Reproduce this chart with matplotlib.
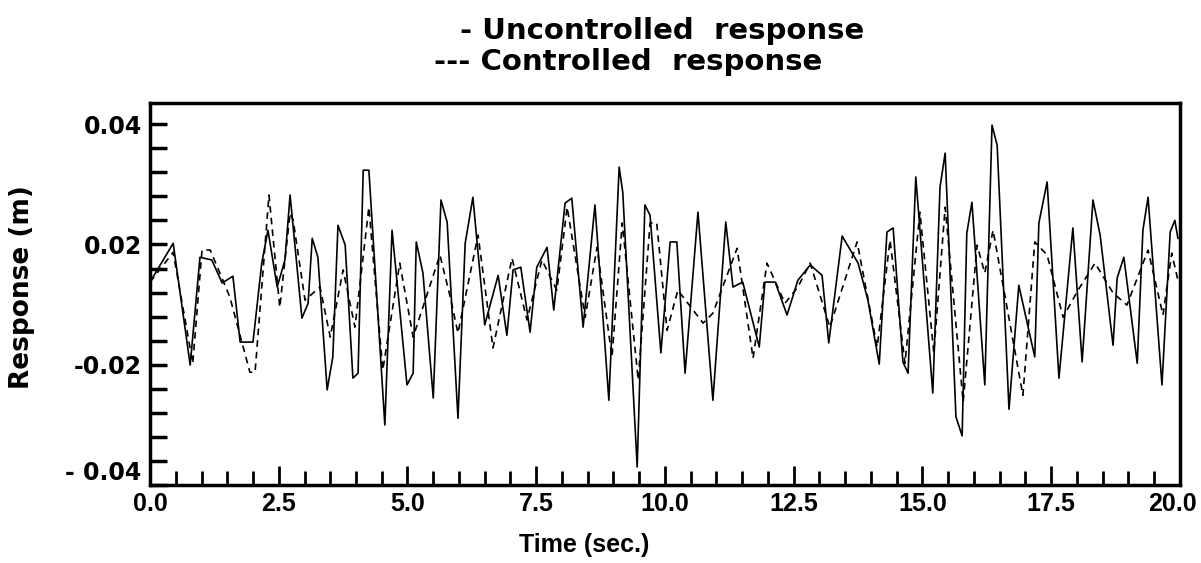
import numpy as np
import matplotlib
matplotlib.use("Agg")
from matplotlib import pyplot as plt
from matplotlib.transforms import ScaledTranslation

# ---- data ----
t_unc = [0.00, 0.45, 0.78, 0.97, 1.20, 1.40, 1.61, 1.75, 2.00, 2.17, 2.29, 2.47, 2.62, 2.72,
         2.95, 3.07, 3.15, 3.26, 3.44, 3.55, 3.65, 3.79, 3.94, 4.04, 4.14, 4.25, 4.56, 4.70,
         4.99, 5.11, 5.17, 5.30, 5.50, 5.65, 5.77, 5.98, 6.12, 6.27, 6.50, 6.76, 6.93, 7.05,
         7.20, 7.38, 7.51, 7.71, 7.84, 8.06, 8.19, 8.41, 8.64, 8.91, 9.11, 9.18, 9.46, 9.61,
         9.71, 9.92, 10.10, 10.23, 10.39, 10.64, 10.93, 11.18, 11.32, 11.51, 11.83, 11.94,
         12.14, 12.37, 12.58, 12.82, 13.05, 13.18, 13.44, 13.75, 13.94, 14.16, 14.31, 14.43,
         14.62, 14.72, 14.87, 15.20, 15.34, 15.44, 15.65, 15.77, 15.86, 15.96, 16.21, 16.35,
         16.45, 16.68, 16.87, 17.18, 17.26, 17.42, 17.65, 17.92, 18.10, 18.31, 18.45, 18.70,
         18.78, 18.91, 19.17, 19.28, 19.38, 19.65, 19.81, 19.90, 19.96]
y_unc = [0.0050, 0.0136, -0.0134, 0.0105, 0.0099, 0.0048, 0.0063, -0.0083, -0.0083, 0.0092,
         0.0165, 0.0039, 0.0099, 0.0243, -0.0030, 0.0003, 0.0147, 0.0105, -0.0189, -0.0116,
         0.0176, 0.0132, -0.0163, -0.0152, 0.0298, 0.0298, -0.0267, 0.0165, -0.0178, -0.0152,
         0.0139, 0.0070, -0.0207, 0.0232, 0.0183, -0.0252, 0.0136, 0.0238, -0.0045, 0.0065,
         -0.0068, 0.0077, 0.0083, -0.0061, 0.0083, 0.0127, -0.0012, 0.0225, 0.0236, -0.0050,
         0.0221, -0.0212, 0.0305, 0.0249, -0.0360, 0.0221, 0.0198, -0.0107, 0.0139, 0.0139,
         -0.0152, 0.0205, -0.0212, 0.0183, 0.0039, 0.0050, -0.0094, 0.0050, 0.0050, -0.0023,
         0.0054, 0.0088, 0.0065, -0.0085, 0.0152, 0.0092, 0.0010, -0.0132, 0.0161, 0.0170,
         -0.0127, -0.0152, 0.0283, -0.0196, 0.0260, 0.0336, -0.0249, -0.0291, 0.0158, 0.0227,
         -0.0178, 0.0398, 0.0353, -0.0232, 0.0043, -0.0116, 0.0181, 0.0272, -0.0163, 0.0170,
         -0.0127, 0.0232, 0.0154, -0.0090, 0.0059, 0.0105, -0.0130, 0.0165, 0.0238, -0.0178,
         0.0161, 0.0187, 0.0147]

t_ctl = [0.00, 0.45, 0.83, 1.01, 1.17, 1.55, 1.94, 2.04, 2.31, 2.52, 2.72, 2.78, 3.01, 3.30,
         3.50, 3.75, 3.98, 4.25, 4.52, 4.85, 5.11, 5.63, 5.83, 5.98, 6.37, 6.66, 7.03, 7.32,
         7.61, 7.90, 8.10, 8.45, 8.68, 8.97, 9.17, 9.48, 9.71, 9.84, 10.04, 10.25, 10.74,
         10.93, 11.40, 11.71, 11.98, 12.33, 12.58, 12.82, 13.20, 13.73, 14.12, 14.37, 14.66,
         14.95, 15.22, 15.44, 15.79, 16.06, 16.21, 16.37, 16.95, 17.18, 17.42, 17.73, 18.02,
         18.35, 18.70, 18.97, 19.38, 19.67, 19.84, 19.96]
y_ctl = [0.0050, 0.0116, -0.0130, 0.0121, 0.0121, 0.0017, -0.0150, -0.0150, 0.0243, -0.0006,
         0.0203, 0.0187, 0.0010, 0.0039, -0.0072, 0.0077, -0.0050, 0.0216, -0.0145, 0.0092,
         -0.0072, 0.0110, 0.0017, -0.0063, 0.0154, -0.0096, 0.0103, -0.0034, 0.0099, 0.0032,
         0.0216, -0.0028, 0.0127, -0.0116, 0.0181, -0.0167, 0.0181, 0.0181, -0.0057, 0.0032,
         -0.0041, -0.0019, 0.0125, -0.0119, 0.0092, 0.0003, 0.0039, 0.0092, -0.0050, 0.0139,
         -0.0094, 0.0143, -0.0130, 0.0205, -0.0107, 0.0216, -0.0216, 0.0132, 0.0070, 0.0165,
         -0.0201, 0.0139, 0.0110, -0.0028, 0.0032, 0.0092, 0.0026, -0.0001, 0.0121, -0.0023,
         0.0114, 0.0054]

x_ticks = [0.0, 2.5, 5.0, 7.5, 10.0, 12.5, 15.0, 17.5, 20.0]
x_labels = ["0.0", "2.5", "5.0", "7.5", "10.0", "12.5", "15.0", "17.5", "20.0"]
y_labels = ["0.04", "0.02", "-0.02", "- 0.04"]

plt.rcParams['font.family'] = ['DejaVu Sans']
plt.rcParams['font.weight'] = 'bold'

fig = plt.figure(figsize=(12.01, 5.63), dpi=100)
ax = fig.add_axes([0.1249, 0.1385, 0.8576, 0.6785])

ax.plot(t_unc, y_unc, color='black', lw=1.2, ls='-')
ax.plot(t_ctl, y_ctl, color='black', lw=1.2, ls=(0, (4, 3)))

ax.set_xlim(0, 20)
ax.set_ylim(-0.04, 0.0447)

ax.set_xticks(x_ticks)
ax.set_xticklabels(x_labels, fontsize=18, family='Liberation Sans', fontweight='bold')
ax.set_xticks(np.arange(0, 20.01, 0.5), minor=True)

yt = np.linspace(0.04, -0.04, 16)
ax.set_yticks(yt[[0, 5, 10, 15]])
ax.set_yticklabels(y_labels, fontsize=17)
ax.set_yticks(yt, minor=True)

ax.tick_params(axis='x', which='major', direction='in', length=14, width=2, pad=5)
ax.tick_params(axis='x', which='minor', direction='in', length=10, width=2)
ax.tick_params(axis='y', which='both', direction='in', length=12, width=2.5, pad=6)

# nudge the end labels like in the scan
ax.get_yticklabels()[-1].set_verticalalignment('bottom')
last = ax.get_xticklabels()[-1]
last.set_transform(last.get_transform() + ScaledTranslation(-0.08, 0, fig.dpi_scale_trans))

for s in ax.spines.values():
    s.set_linewidth(2.5)

ax.set_xlabel("Time (sec.)", fontsize=18, family='Liberation Sans', fontweight='bold')
ax.xaxis.set_label_coords(0.422, -0.125)
ax.set_ylabel("Response (m)", fontsize=19, fontweight='bold')
ax.yaxis.set_label_coords(-0.112, 0.518)

fig.text(0.551, 0.945, "- Uncontrolled  response", fontsize=21, ha='center', va='center')
fig.text(0.523, 0.89, "--- Controlled  response", fontsize=21, ha='center', va='center')

fig.savefig("out.png", dpi=100)
